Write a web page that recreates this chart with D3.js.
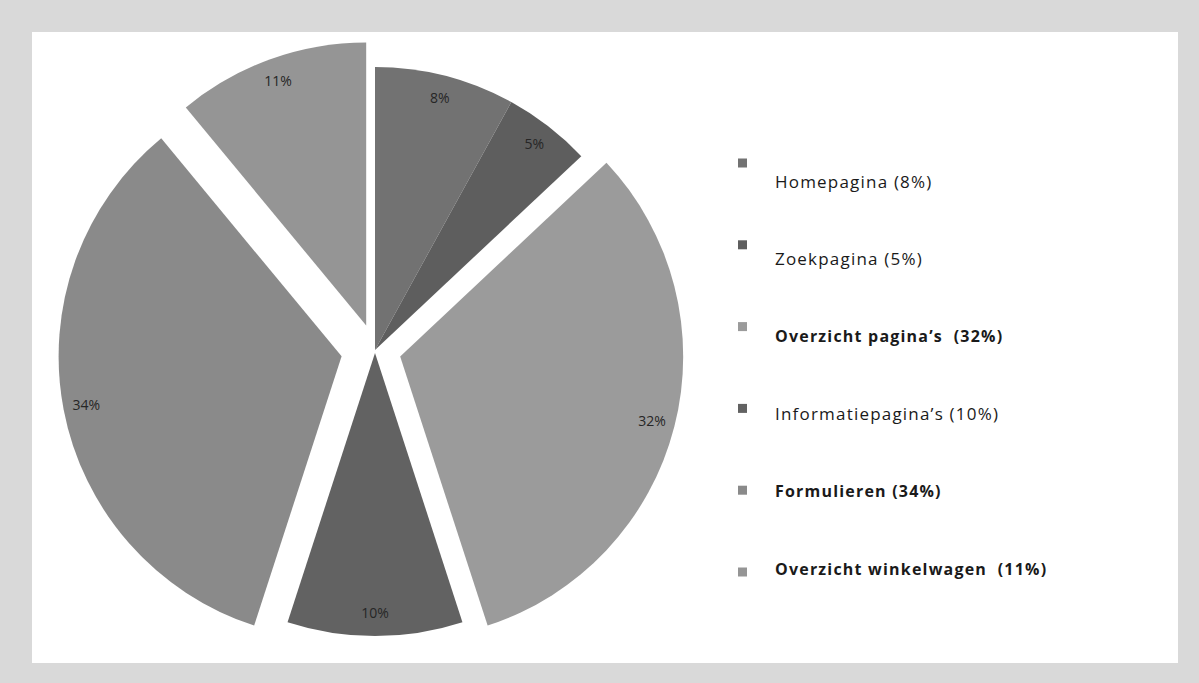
<!DOCTYPE html>
<html>
<head>
<meta charset="utf-8">
<script src="https://cdn.jsdelivr.net/npm/d3@7"></script>
<style>
  body { margin: 0; background: #d9d9d9; }
  svg { display: block; }
  text { font-family: "Open Sans", Lato, sans-serif; white-space: pre; }
</style>
</head>
<body>
<div id="chart"></div>
<script>
// chart data
const categories = ['Homepagina', 'Zoekpagina', 'Overzicht pagina’s', 'Informatiepagina’s', 'Formulieren', 'Overzicht winkelwagen'];
const values = [8, 5, 32, 10, 34, 11];
const legendLabels = ['Homepagina (8%)', 'Zoekpagina (5%)', 'Overzicht pagina’s  (32%)', 'Informatiepagina’s (10%)', 'Formulieren (34%)', 'Overzicht winkelwagen  (11%)'];
const boldLabels = ['Overzicht pagina’s', 'Formulieren', 'Overzicht winkelwagen'];

// look
const colors = ['#727272', '#5e5e5e', '#9b9b9b', '#626262', '#8a8a8a', '#959595'];
const explode = [0, 0, 26, 3, 34, 26];

const width = 1199;
const height = 683;
const cx = 375;
const cy = 350;
const radius = 283;

const svg = d3.select('#chart')
  .append('svg')
  .attr('width', width)
  .attr('height', height);

// white panel inside the grey frame
svg.append('rect')
  .attr('x', 32)
  .attr('y', 32)
  .attr('width', 1146)
  .attr('height', 631)
  .attr('fill', '#fff');

const pie = d3.pie().sort(null).value(d => d);
const arcs = pie(values);
const arc = d3.arc().innerRadius(0).outerRadius(radius);

const g = svg.append('g').attr('transform', `translate(${cx},${cy})`);

// push a slice out along its middle angle
const offset = (d, i) => {
  const mid = (d.startAngle + d.endAngle) / 2;
  return [Math.sin(mid) * explode[i], -Math.cos(mid) * explode[i]];
};

const slices = g.selectAll('g.slice')
  .data(arcs)
  .join('g')
  .attr('class', 'slice')
  .attr('transform', (d, i) => `translate(${offset(d, i)})`);

slices.append('path')
  .attr('d', arc)
  .attr('fill', (d, i) => colors[i]);

// labels near the outer edge
const labelArc = d3.arc().innerRadius(260).outerRadius(260);
slices.append('text')
  .attr('transform', d => `translate(${labelArc.centroid(d)})`)
  .attr('text-anchor', 'middle')
  .attr('dy', '0.35em')
  .attr('font-size', 14)
  .attr('fill', '#262626')
  .text(d => d.value + '%');

// legend
const markerY = d3.scaleLinear().domain([0, 5]).range([163, 572]);
const textY = d3.scaleLinear().domain([0, 5]).range([182, 569]);

const legend = svg.append('g').attr('class', 'legend');
const rows = legend.selectAll('g')
  .data(categories)
  .join('g');

rows.append('rect')
  .attr('x', 738)
  .attr('y', (d, i) => markerY(i) - 4.5)
  .attr('width', 9)
  .attr('height', 9)
  .attr('fill', (d, i) => colors[i]);

rows.append('text')
  .attr('x', 775)
  .attr('y', (d, i) => textY(i))
  .attr('dy', '0.35em')
  .attr('font-size', d => boldLabels.includes(d) ? 16 : 17)
  .attr('letter-spacing', 1.2)
  .attr('fill', '#1a1a1a')
  .attr('font-weight', d => boldLabels.includes(d) ? 'bold' : 'normal')
  .text((d, i) => legendLabels[i]);
</script>
</body>
</html>
